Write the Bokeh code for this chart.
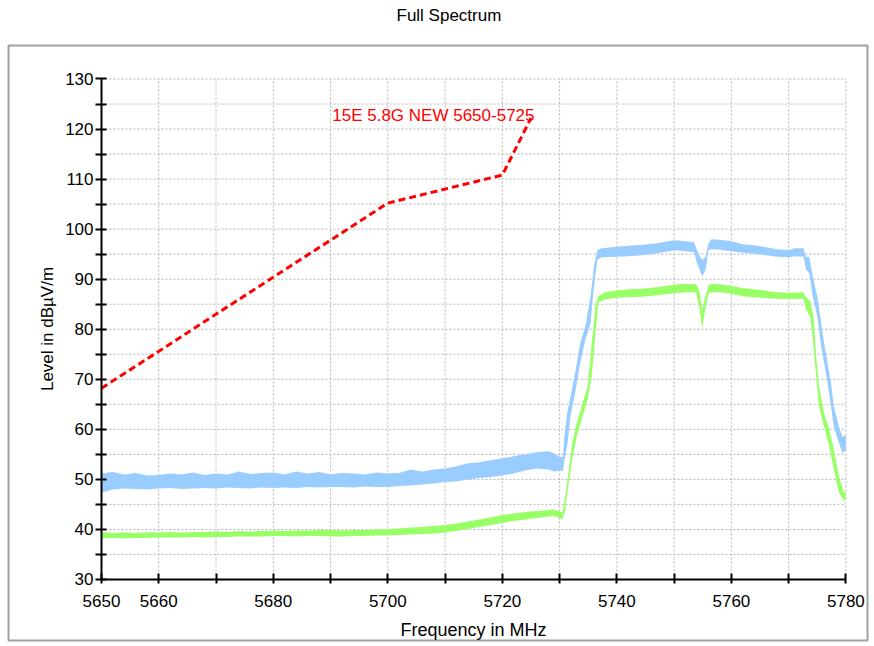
from bokeh.plotting import figure
from bokeh.models import Range1d, FixedTicker, Label, ColumnDataSource, LinearAxis
from bokeh.embed import file_html
from bokeh.resources import INLINE

# ---------------- data ----------------
x_ticks = [5650, 5660, 5670, 5680, 5690, 5700, 5710, 5720, 5730, 5740, 5750, 5760, 5770, 5780]
x_unlabeled = [5670, 5690, 5710, 5730, 5750, 5770]
y_ticks = [30, 35, 40, 45, 50, 55, 60, 65, 70, 75, 80, 85, 90, 95, 100, 105, 110, 115, 120, 125, 130]
y_unlabeled = [35, 45, 55, 65, 75, 85, 95, 105, 115, 125]

limit_f = [5650, 5700, 5720, 5725]
limit_v = [68.2, 105.2, 110.8, 122.2]
limit_name = "15E 5.8G NEW 5650-5725"

blue_f = [5650, 5652, 5654, 5656, 5658, 5660, 5662, 5664, 5666, 5668, 5670, 5672, 5674, 5676,
          5678, 5680, 5682, 5684, 5686, 5688, 5690, 5692, 5694, 5696, 5698, 5700, 5702, 5704,
          5706, 5708, 5710, 5712, 5714, 5716, 5718, 5720, 5722, 5724, 5726, 5728, 5729, 5730,
          5730.6, 5730.8, 5731.4, 5731.9, 5732.8, 5733.6, 5734.5, 5735.4, 5736.0, 5736.6, 5737.4,
          5740, 5742, 5744.5, 5747, 5750, 5752, 5753.5, 5754.0, 5754.5, 5754.9, 5755.5, 5756.0,
          5756.5, 5758, 5760, 5762, 5764, 5766, 5768, 5770, 5771, 5772.6, 5773.0, 5773.6, 5774.2,
          5775.0, 5775.6, 5776.2, 5776.8, 5777.4, 5777.9, 5778.8, 5779.4, 5780.0]
blue_hi = [51.2, 51.5, 51.0, 51.3, 50.8, 50.9, 51.2, 51.0, 51.4, 50.9, 51.2, 51.0, 51.6, 51.1,
           51.3, 51.4, 51.0, 51.6, 51.2, 51.5, 51.0, 51.3, 51.2, 51.0, 51.4, 51.2, 51.3, 52.0,
           51.6, 52.0, 52.2, 52.6, 53.2, 53.4, 53.8, 54.2, 54.6, 55.0, 55.4, 55.6, 55.2, 54.5,
           54.5, 58.5, 63.8, 66.5, 71.8, 77.2, 80.6, 86.6, 92.6, 95.9, 96.2,
           96.5, 96.7, 96.9, 97.2, 97.8, 97.6, 97.4, 95.8, 94.5, 93.9, 94.5, 97.2,
           98.0, 97.9, 97.6, 97.0, 96.8, 96.4, 96.0, 95.8, 96.2, 96.2, 94.5, 94.5, 90.6,
           86.6, 81.9, 77.2, 73.2, 69.2, 64.5, 60.5, 58.5, 58.8]
blue_lo = [47.4, 48.0, 48.2, 48.1, 48.0, 48.2, 48.3, 48.1, 48.2, 48.3, 48.2, 48.4, 48.3, 48.2,
           48.4, 48.3, 48.4, 48.3, 48.5, 48.4, 48.5, 48.5, 48.4, 48.6, 48.5, 48.5, 48.7, 48.8,
           49.0, 49.2, 49.5, 49.6, 50.0, 50.3, 50.5, 50.8, 51.2, 51.8, 52.2, 52.0, 51.6, 51.8,
           51.7, 53.5, 57.2, 62.6, 67.8, 73.2, 77.9, 81.2, 88.6, 93.9, 94.4,
           94.5, 94.6, 94.8, 95.2, 95.8, 95.6, 95.4, 93.2, 91.8, 90.6, 91.9, 95.8,
           96.0, 95.9, 95.6, 95.3, 95.1, 94.8, 94.5, 94.4, 94.6, 94.5, 92.0, 91.2, 86.6,
           82.6, 77.2, 73.2, 69.2, 64.5, 60.5, 57.2, 55.2, 55.9]

green_f = [5650, 5652, 5654, 5656, 5658, 5660, 5662, 5664, 5666, 5668, 5670, 5672, 5674, 5676,
           5678, 5680, 5682, 5684, 5686, 5688, 5690, 5692, 5694, 5696, 5698, 5700, 5702, 5704,
           5706, 5708, 5710, 5712, 5714, 5716, 5718, 5720, 5722, 5724, 5726, 5728, 5729, 5730,
           5730.5, 5731.0, 5731.6, 5732.2, 5733.0, 5734.0, 5734.9, 5735.6, 5736.3, 5736.8, 5738,
           5740, 5742, 5744.5, 5747, 5750, 5752, 5753.8, 5754.4, 5754.9, 5755.4, 5756.0, 5756.5,
           5758, 5760, 5762, 5764, 5766, 5768, 5770, 5772.6, 5773.0, 5773.8, 5774.4, 5774.8,
           5775.3, 5776.2, 5777.1, 5777.9, 5778.8, 5779.7, 5780.0]
green_hi = [39.5, 39.3, 39.4, 39.3, 39.4, 39.4, 39.5, 39.4, 39.5, 39.5, 39.6, 39.5, 39.7, 39.6,
            39.7, 39.8, 39.7, 39.8, 39.8, 39.9, 39.9, 39.8, 39.9, 39.9, 40.0, 40.1, 40.2, 40.4,
            40.5, 40.7, 40.9, 41.2, 41.6, 42.0, 42.4, 42.9, 43.2, 43.5, 43.7, 43.9, 44.0, 43.6,
            43.4, 46.7, 51.9, 57.2, 61.2, 65.2, 68.6, 77.0, 85.0, 86.7, 87.4,
            87.8, 88.0, 88.1, 88.4, 88.9, 89.1, 89.0, 87.8, 83.8, 86.4, 88.7, 89.1,
            89.0, 88.7, 88.2, 88.0, 87.7, 87.4, 87.3, 87.4, 86.4, 85.7, 81.9, 74.6,
            68.6, 63.2, 59.9, 55.9, 50.6, 47.3, 47.6]
green_lo = [38.2, 38.3, 38.2, 38.3, 38.3, 38.4, 38.4, 38.4, 38.5, 38.4, 38.5, 38.5, 38.6, 38.6,
            38.6, 38.7, 38.7, 38.6, 38.7, 38.7, 38.6, 38.6, 38.7, 38.7, 38.8, 38.8, 38.9, 39.0,
            39.1, 39.2, 39.4, 39.7, 40.1, 40.5, 40.9, 41.3, 41.7, 42.0, 42.3, 42.6, 42.7, 42.3,
            42.0, 44.0, 49.3, 53.9, 58.6, 62.5, 66.0, 70.4, 79.8, 85.4, 86.0,
            86.3, 86.4, 86.5, 86.8, 87.2, 87.4, 87.4, 84.5, 80.1, 83.8, 87.1, 87.4,
            87.4, 87.1, 86.6, 86.4, 86.2, 86.1, 86.0, 86.1, 84.0, 82.4, 75.9, 70.6,
            64.5, 60.5, 56.5, 51.9, 47.3, 45.7, 46.3]

title_text = "Full Spectrum"
x_label = "Frequency in MHz"
y_label = "Level in dBµV/m"

# ---------------- styling ----------------
FONT = "Liberation Sans"
FS = "17px"
X0, X1 = x_ticks[0], x_ticks[-1]
Y0, Y1 = y_ticks[0], y_ticks[-1]

# the plot frame is the grey outer box; the axes sit inside it
p = figure(width=870, height=644, output_backend="svg", toolbar_location=None,
           x_range=Range1d(5633.76, 5783.77), y_range=Range1d(17.81, 136.69),
           min_border_left=8, min_border_right=3, min_border_top=45, min_border_bottom=4,
           title=title_text, background_fill_color="white", border_fill_color="white")
p.outline_line_color = "#a0a0a0"
p.outline_line_width = 2

xax = p.xaxis[0]
yax = p.yaxis[0]

p.title.align = "left"
p.title.offset = 388
p.title.vertical_align = "top"
p.title.standoff = 8
p.title.text_font = FONT
p.title.text_font_size = FS
p.title.text_font_style = "normal"
p.title.text_color = "black"

# invisible spacer between the title and the grey box (one hidden tick, blank label)
spacer = LinearAxis(ticker=FixedTicker(ticks=[x_ticks[5]]), axis_line_color=None,
                    major_tick_line_color=None, minor_tick_line_color=None,
                    major_tick_out=15, major_tick_in=0, major_label_standoff=0,
                    major_label_overrides={x_ticks[5]: ""},
                    major_label_text_font_size="1px", major_label_text_alpha=0)
p.add_layout(spacer, "above")

for ax in (xax, yax):
    ax.axis_line_width = 2
    ax.axis_line_color = "black"
    ax.major_tick_line_width = 2
    ax.major_tick_line_color = "black"
    ax.minor_tick_line_color = None
    ax.major_label_text_font = FONT
    ax.major_label_text_font_size = FS
    ax.major_label_text_color = "black"
    ax.axis_label_text_font = FONT
    ax.axis_label_text_font_size = FS
    ax.axis_label_text_font_style = "normal"
    ax.axis_label_text_color = "black"

xax.fixed_location = Y0
xax.ticker = FixedTicker(ticks=x_ticks)
xax.major_label_overrides = {t: "" for t in x_unlabeled}
xax.major_tick_in = 6
xax.major_tick_out = 4
xax.major_label_standoff = 12
xax.axis_label = x_label
xax.axis_label_standoff = 9
xax.axis_label_text_font_size = "18px"
xax.bounds = (X0, X1)

yax.fixed_location = X0
yax.ticker = FixedTicker(ticks=y_ticks)
yax.major_label_overrides = {t: "" for t in y_unlabeled}
yax.major_tick_in = 5
yax.major_tick_out = 6
yax.major_label_standoff = 2
yax.axis_label = y_label
yax.axis_label_standoff = 5
yax.bounds = (Y0, Y1)

# dotted grid limited to the data area, built from the tick lists
p.xgrid.visible = False
p.ygrid.visible = False
vx = x_ticks[1:]
hy = y_ticks[1:]
grid_src = ColumnDataSource(dict(
    x0=vx + [X0] * len(hy), x1=vx + [X1] * len(hy),
    y0=[Y0] * len(vx) + hy, y1=[Y1] * len(vx) + hy))
p.segment(x0="x0", y0="y0", x1="x1", y1="y1", source=grid_src,
          line_color="#b4b4b4", line_dash="2 2", line_width=1)

p.varea(x=blue_f, y1=blue_lo, y2=blue_hi, fill_color="#99ccff")
p.varea(x=green_f, y1=green_lo, y2=green_hi, fill_color="#99ff66")
p.line(limit_f, limit_v, line_color="#ff0000", line_width=3, line_dash="7 4")

p.add_layout(Label(x=5690.3, y=122.8, text=limit_name, text_color="#ff0000",
                   text_font=FONT, text_font_size=FS, text_baseline="alphabetic"))

open("out.html", "w").write(file_html(p, INLINE))
